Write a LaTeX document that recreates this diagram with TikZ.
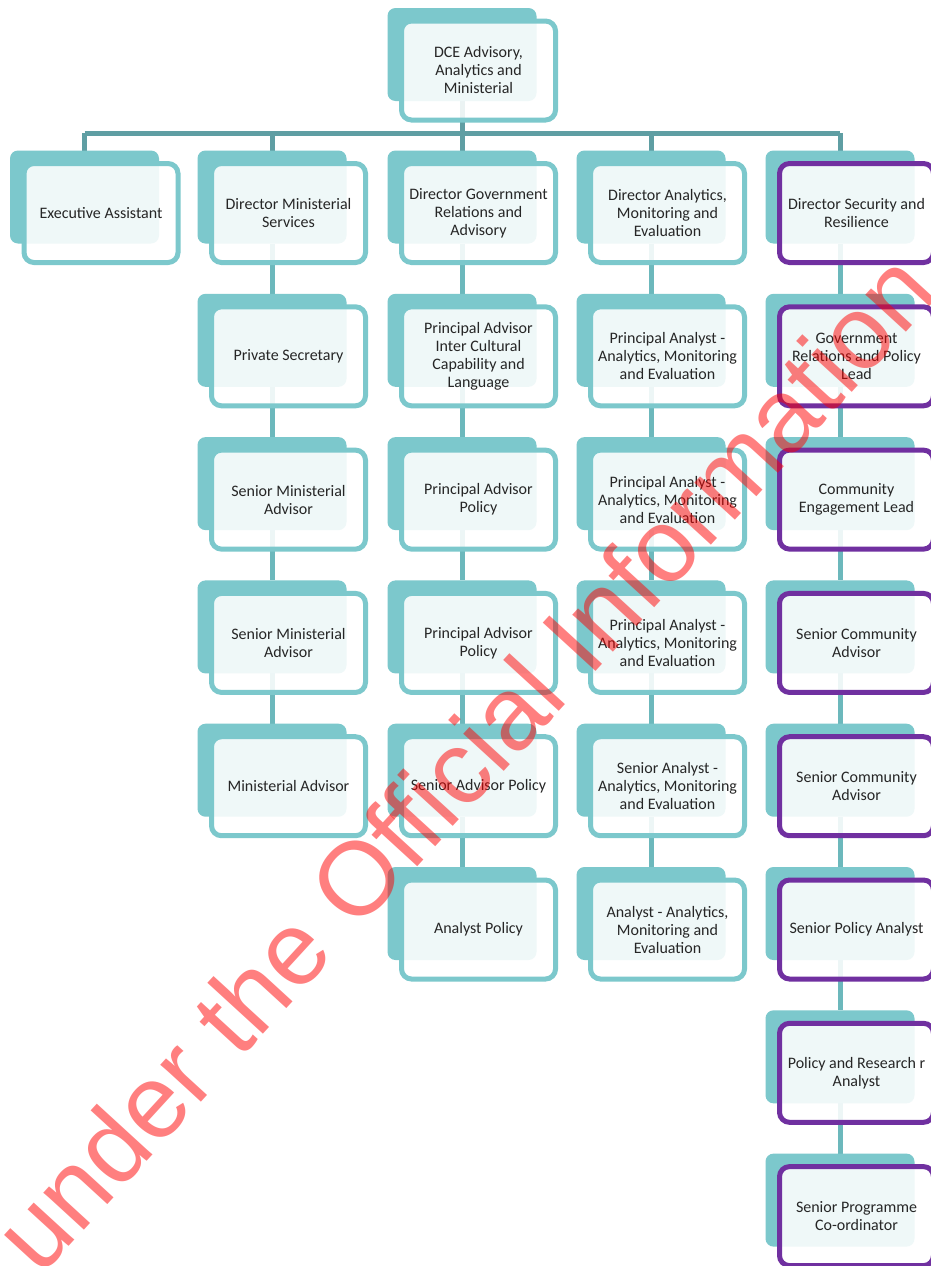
\documentclass[tikz,border=0pt]{standalone}
\usepackage{fontspec}
\setmainfont{Carlito}
\newfontfamily\wmfont{Liberation Sans}
\pgfdeclarelayer{bgzero}
\pgfdeclarelayer{background}
\pgfsetlayers{bgzero,background,main}
\definecolor{tealbk}{HTML}{7CC8CC}
\definecolor{busc}{HTML}{5F9EA3}
\definecolor{linkc}{HTML}{6CB8BC}
\definecolor{purp}{HTML}{7030A0}
\definecolor{txt}{HTML}{262626}
\tikzset{
  backbox/.style={rectangle, rounded corners=8pt, fill=tealbk, draw=none,
    minimum width=149pt, minimum height=93pt, inner sep=0pt, outer sep=0pt},
  frontbox/.style={rectangle, rounded corners=10pt, draw=tealbk, line width=5pt,
    fill=white, fill opacity=0.88, text opacity=1, text=txt,
    minimum width=154pt, minimum height=99pt, inner sep=0pt, outer sep=0pt,
    align=center, font=\fontsize{16}{18}\selectfont},
  purplebox/.style={frontbox, draw=purp},
  buslink/.style={draw=busc, line width=5pt},
  link/.style={draw=linkc, line width=5pt},
}
% name, back-x, back-y (px from top), style, text
\newcommand{\obox}[5]{%
  \node[backbox] (#1-b) at ({#2+74.5},{-(#3+46.5)}) {};
  \node[#4] (#1) at ({#2+91},{-(#3+62.5)}) {#5};
}
\begin{document}
\begin{tikzpicture}[x=1pt,y=1pt]
\useasboundingbox (0,0) rectangle (931,-1266);
\clip (0,0) rectangle (931,-1266);
\begin{pgfonlayer}{bgzero}
  \fill[white] (0,0) rectangle (931,-1266);
\end{pgfonlayer}

% top
\obox{top}{387.5}{8}{frontbox}{DCE Advisory,\\Analytics and\\Ministerial}

% column 1
\obox{ea}{10}{150.5}{frontbox}{Executive Assistant}

% column 2
\obox{dms}{197.5}{150.5}{frontbox}{Director Ministerial\\Services}
\obox{ps}{197.5}{293.8}{frontbox}{Private Secretary}
\obox{sma}{197.5}{437.1}{frontbox}{Senior Ministerial\\Advisor}
\obox{smb}{197.5}{580.4}{frontbox}{Senior Ministerial\\Advisor}
\obox{ma}{197.5}{723.7}{frontbox}{Ministerial Advisor}

% column 3
\obox{dgr}{387.5}{150.5}{frontbox}{Director Government\\Relations and\\Advisory}
\obox{pai}{387.5}{293.8}{frontbox}{Principal Advisor\\Inter Cultural\\Capability and\\Language}
\obox{papa}{387.5}{437.1}{frontbox}{Principal Advisor\\Policy}
\obox{papb}{387.5}{580.4}{frontbox}{Principal Advisor\\Policy}
\obox{sap}{387.5}{723.7}{frontbox}{Senior Advisor Policy}
\obox{ap}{387.5}{867}{frontbox}{Analyst Policy}

% column 4
\obox{dam}{576.5}{150.5}{frontbox}{Director Analytics,\\Monitoring and\\Evaluation}
\obox{pana}{576.5}{293.8}{frontbox}{Principal Analyst -\\Analytics, Monitoring\\and Evaluation}
\obox{panb}{576.5}{437.1}{frontbox}{Principal Analyst -\\Analytics, Monitoring\\and Evaluation}
\obox{panc}{576.5}{580.4}{frontbox}{Principal Analyst -\\Analytics, Monitoring\\and Evaluation}
\obox{san}{576.5}{723.7}{frontbox}{Senior Analyst -\\Analytics, Monitoring\\and Evaluation}
\obox{an}{576.5}{867}{frontbox}{Analyst - Analytics,\\Monitoring and\\Evaluation}

% column 5
\obox{dsr}{765.5}{150.5}{purplebox}{Director Security and\\Resilience}
\obox{grp}{765.5}{293.8}{purplebox}{Government\\Relations and Policy\\Lead}
\obox{cel}{765.5}{437.1}{purplebox}{Community\\Engagement Lead}
\obox{sca}{765.5}{580.4}{purplebox}{Senior Community\\Advisor}
\obox{scb}{765.5}{723.7}{purplebox}{Senior Community\\Advisor}
\obox{spa}{765.5}{867}{purplebox}{Senior Policy Analyst}
\obox{pra}{765.5}{1010.3}{purplebox}{Policy and Research r\\Analyst}
\obox{spc}{765.5}{1153.6}{purplebox}{Senior Programme\\Co-ordinator}

\begin{pgfonlayer}{background}
  \coordinate (bus) at (0,-133);
  \draw[buslink] (top-b.south) -- (top-b.south |- bus);
  \draw[buslink] (ea-b.north |- bus) -- (dsr-b.north |- bus);
  \foreach \n in {ea,dms,dgr,dam,dsr}
    \draw[buslink] (\n-b.north) -- (\n-b.north |- bus);
  \foreach \a/\b in {dms/ps,ps/sma,sma/smb,smb/ma,
                     dgr/pai,pai/papa,papa/papb,papb/sap,sap/ap,
                     dam/pana,pana/panb,panb/panc,panc/san,san/an,
                     dsr/grp,grp/cel,cel/sca,sca/scb,scb/spa,spa/pra,pra/spc}
    \draw[link] (\a-b.south) -- (\b-b.north);
\end{pgfonlayer}

% watermark
\node[rotate=47.5, anchor=base west, inner sep=0pt, text=red, text opacity=0.5,
      font=\wmfont\fontsize{104}{104}\selectfont] (wm) at (40,-1278)
      {under the Official Information};
\end{tikzpicture}
\end{document}
